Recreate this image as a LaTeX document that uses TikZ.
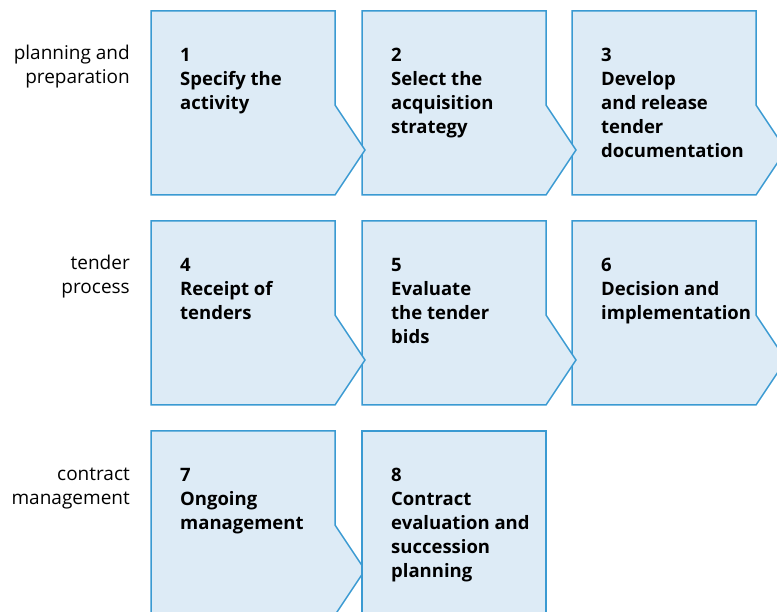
\documentclass[tikz,border=0pt]{standalone}
\usepackage{fontspec}
\setmainfont{Open Sans}
\definecolor{stageline}{HTML}{3A9AD2}
\definecolor{stagefill}{HTML}{DDEBF6}

\begin{document}
\begin{tikzpicture}[x=1pt,y=-1pt,
    stage/.style={draw=stageline, fill=stagefill, line width=1.5pt, line join=miter},
    stagetext/.style={anchor=north west, align=left, inner sep=0pt,
      font=\bfseries\fontsize{18.5}{24}\selectfont},
    phase/.style={anchor=base east, align=right, inner sep=0pt,
      font=\fontsize{19}{24}\selectfont}]
  \useasboundingbox (0,0) rectangle (777,612);

  % stages with a chevron on the right, drawn right to left
  \foreach \c/\r in {572/221, 362/221, 151/221, 572/11, 362/11, 151/11, 151/431}
    \draw[stage] (\c,\r) -- ++(184,0) -- ++(0,94) -- ++(30,45) -- ++(-30,45)
      -- ++(-184,0) -- cycle;
  % last stage has no chevron
  \draw[stage] (362,431) rectangle ++(184,184);

  % stage texts
  \foreach \c/\r/\t [count=\n] in {
      151/11/{Specify the\\activity},
      362/11/{Select the\\acquisition\\strategy},
      572/11/{Develop\\and release\\tender\\documentation},
      151/221/{Receipt of\\tenders},
      362/221/{Evaluate\\the tender\\bids},
      572/221/{Decision and\\implementation},
      151/431/{Ongoing\\management},
      362/431/{Contract\\evaluation and\\succession\\planning}}
    \node[stagetext] (s\n) at (\c+29,\r+37) {\n\\\t};

  % phase labels (anchored on the second line)
  \node[phase] (plan) at (130,84) {planning and\\preparation};
  \node[phase] (tender) at (130,294) {tender\\process};
  \node[phase] (contract) at (130,504) {contract\\management};
\end{tikzpicture}
\end{document}
